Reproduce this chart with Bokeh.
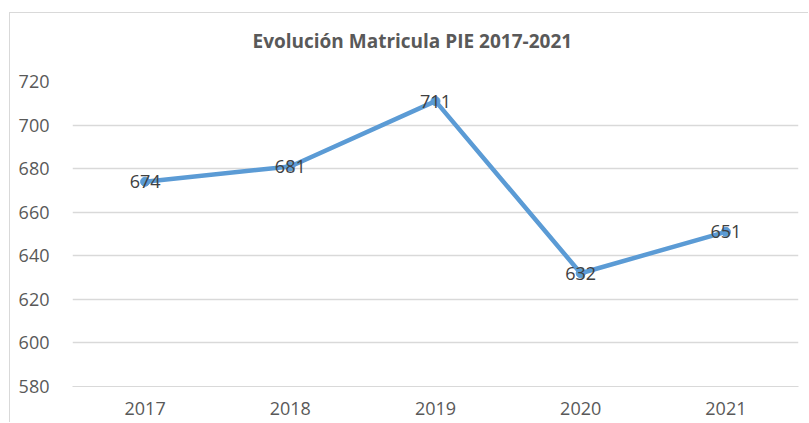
from bokeh.plotting import figure
from bokeh.models import ColumnDataSource, FixedTicker, LabelSet, Title
from bokeh.core.properties import value
from bokeh.embed import file_html
from bokeh.resources import INLINE

years = ["2017", "2018", "2019", "2020", "2021"]
values = [674, 681, 711, 632, 651]
y_ticks = [580, 600, 620, 640, 660, 680, 700, 720]
title_text = "Evolución Matricula PIE 2017-2021"

src = ColumnDataSource(dict(x=years, y=values, lab=[str(v) for v in values]))

# chart area box begins at page (9, 12)
p = figure(width=798, height=409, x_range=years, y_range=(580, 720),
           output_backend="svg", toolbar_location=None,
           min_border_left=62, min_border_right=11, min_border_top=68, min_border_bottom=37)
p.styles = {"border-left": "1.5px solid #D9D9D9", "border-top": "1.5px solid #D9D9D9",
            "margin-left": "9px", "margin-top": "12px", "box-sizing": "content-box"}

p.title.text = title_text
p.title.align = "left"
p.title.offset = 180
p.title.standoff = 10
p.title.text_font = "Open Sans"
p.title.text_font_size = "19px"
p.title.text_font_style = "bold"
p.title.text_color = "#595959"

# spacer between title and plot frame
spacer = Title(text=" ", text_font_size="2px", standoff=19, text_color="white")
p.add_layout(spacer, "above")

p.outline_line_color = None
p.background_fill_color = "white"
p.border_fill_color = "white"

p.line("x", "y", source=src, line_color="#5B9BD5", line_width=4.5, line_join="round")
p.scatter("x", "y", source=src, size=9, fill_color="#5B9BD5", line_color="#5B9BD5")

labels = LabelSet(x="x", y="y", text="lab", source=src, text_align="center",
                  text_baseline="middle", text_font=value("Open Sans"),
                  text_font_size=value("18px"), text_color="#404040")
p.add_layout(labels)

p.yaxis.ticker = FixedTicker(ticks=y_ticks)
p.yaxis.axis_line_color = None
p.yaxis.major_tick_line_color = None
p.yaxis.minor_tick_line_color = None
p.yaxis.major_label_text_font = "Open Sans"
p.yaxis.major_label_text_font_size = "18px"
p.yaxis.major_label_text_color = "#595959"
p.yaxis.major_label_standoff = 17

p.xaxis.axis_line_color = "#D9D9D9"
p.xaxis.major_tick_line_color = None
p.xaxis.minor_tick_line_color = None
p.xaxis.major_label_text_font = "Open Sans"
p.xaxis.major_label_text_font_size = "18px"
p.xaxis.major_label_text_color = "#595959"
p.xaxis.major_label_standoff = 9

p.xgrid.grid_line_color = None
p.ygrid.grid_line_color = "#D9D9D9"
p.ygrid.grid_line_width = 1.5

open("out.html", "w").write(file_html(p, INLINE))
